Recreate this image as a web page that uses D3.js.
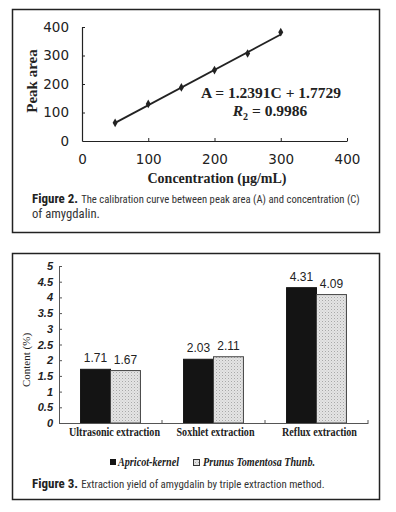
<!DOCTYPE html>
<html><head><meta charset="utf-8">
<script src="https://cdn.jsdelivr.net/npm/d3@7"></script>
<style>
html,body{margin:0;padding:0;background:#fff;}
svg{display:block;}
</style></head>
<body>
<svg id="c" width="396" height="512"></svg>
<script>
// ---------- Figure 2 data ----------
const concentration = [50, 100, 150, 200, 250, 300];
const peakArea = [64, 130, 188, 249, 307, 382];
const fitSlope = 1.2391;
const fitIntercept = 1.7729;
const xTicks1 = [0, 100, 200, 300, 400];
const yTicks1 = [0, 100, 200, 300, 400];

// ---------- Figure 3 data ----------
const methods = ["Ultrasonic extraction", "Soxhlet extraction", "Reflux extraction"];
const seriesNames = ["Apricot-kernel", "Prunus Tomentosa Thunb."];
const apricotValues = [1.71, 2.03, 4.31];
const prunusValues = [1.67, 2.11, 4.09];
const yTicks2 = [0, 0.5, 1, 1.5, 2, 2.5, 3, 3.5, 4, 4.5, 5];

const svg = d3.select("#c");
const defs = svg.append("defs");
const pat = defs.append("pattern").attr("id","dots").attr("patternUnits","userSpaceOnUse")
  .attr("width",3).attr("height",3);
pat.append("rect").attr("width",3).attr("height",3).attr("fill","#e4e4e4");
pat.append("rect").attr("x",0).attr("y",0).attr("width",1).attr("height",1).attr("fill","#a8a8a8");
pat.append("rect").attr("x",1.5).attr("y",1.5).attr("width",1).attr("height",1).attr("fill","#c4c4c4");

// frames
svg.append("rect").attr("x",12.5).attr("y",9.5).attr("width",367).attr("height",223)
  .attr("fill","none").attr("stroke","#222").attr("stroke-width",1.5);
svg.append("rect").attr("x",12.5).attr("y",253.5).attr("width",367).attr("height",246)
  .attr("fill","none").attr("stroke","#222").attr("stroke-width",1.5);

// ================= Figure 2 =================
const x1 = d3.scaleLinear().domain([0,400]).range([82,347]);
const y1 = d3.scaleLinear().domain([0,400]).range([141,27]);
const g1 = svg.append("g");

const ax1 = g1.append("g").attr("transform","translate(0,141)")
  .call(d3.axisBottom(x1).tickValues(xTicks1).tickSizeInner(-3).tickSizeOuter(0).tickPadding(13));
const ay1 = g1.append("g").attr("transform","translate(82,0)")
  .call(d3.axisLeft(y1).tickValues(yTicks1).tickSizeInner(-3).tickSizeOuter(0).tickPadding(13));
[ax1, ay1].forEach(a=>{
  a.select(".domain").attr("stroke","#222").attr("stroke-width",1.2);
  a.selectAll(".tick line").attr("stroke","#222");
  a.selectAll("text").attr("font-family","'DejaVu Sans', sans-serif").attr("font-size",13.5)
    .attr("fill","#222");
});
ay1.selectAll(".tick").filter(d=>d===0).select("line").remove();

// trend line
const xs = d3.extent(concentration);
g1.append("line")
  .attr("x1",x1(xs[0])).attr("y1",y1(fitSlope*xs[0]+fitIntercept))
  .attr("x2",x1(xs[1])).attr("y2",y1(fitSlope*xs[1]+fitIntercept))
  .attr("stroke","#222").attr("stroke-width",1.8);
// points
g1.selectAll("path.pt").data(concentration).join("path").attr("class","pt")
  .attr("d", d3.symbol(d3.symbolDiamond, 22))
  .attr("transform",(d,i)=>`translate(${x1(d)},${y1(peakArea[i])})`)
  .attr("fill","#222");

// equation
g1.append("text").attr("x",271).attr("y",98).attr("text-anchor","middle")
  .attr("font-family","'Liberation Serif', serif").attr("font-weight","bold").attr("font-size",15.5)
  .attr("fill","#222").text("A = 1.2391C + 1.7729");
const r2 = g1.append("text").attr("x",270).attr("y",116).attr("text-anchor","middle")
  .attr("font-family","'Liberation Serif', serif").attr("font-weight","bold").attr("font-size",15.5)
  .attr("fill","#222");
r2.append("tspan").attr("font-style","italic").text("R");
r2.append("tspan").attr("font-size",10).attr("dy",4).text("2");
r2.append("tspan").attr("dy",-4).text(" = 0.9986");

// axis titles
g1.append("text").attr("transform","translate(37,81) rotate(-90)").attr("text-anchor","middle")
  .attr("font-family","'Liberation Serif', serif").attr("font-weight","bold").attr("font-size",15)
  .attr("fill","#222").text("Peak area");
g1.append("text").attr("x",217).attr("y",183).attr("text-anchor","middle")
  .attr("font-family","'Liberation Serif', serif").attr("font-weight","bold").attr("font-size",14)
  .attr("fill","#222").text("Concentration (μg/mL)");

// caption
const capFont = "'Roboto Condensed','Liberation Sans Narrow','Liberation Sans',sans-serif";
function caption(y, bold, rest, endX){
  let x = 32;
  if(bold){
    const b = svg.append("text").attr("x",x).attr("y",y).attr("font-family",capFont)
      .attr("font-size",13).attr("font-weight","bold").attr("fill","#222").text(bold);
    x += b.node().getComputedTextLength() + 3;
  }
  const t = svg.append("text").attr("x",x).attr("y",y).attr("font-family",capFont)
    .attr("font-size",13).attr("fill","#333").text(rest);
  const nat = t.node().getComputedTextLength();
  const target = endX - x;
  if (nat > target) t.attr("font-size", 13 * target / nat);
}
caption(203, "Figure 2.", "The calibration curve between peak area (A) and concentration (C)", 360);
caption(218, null, "of amygdalin.", 100);

// ================= Figure 3 =================
const x0 = d3.scaleBand().domain(methods).range([59,368]).paddingInner(0).paddingOuter(0);
const xs2 = d3.scaleBand().domain(seriesNames).range([0,x0.bandwidth()]).paddingInner(0).paddingOuter(0.72);
const y2 = d3.scaleLinear().domain([0,5]).range([423,266]);
const g2 = svg.append("g");

const groups = methods.map((m,i)=>({m, vals:[apricotValues[i], prunusValues[i]]}));
const gg = g2.selectAll("g.grp").data(groups).join("g").attr("class","grp")
  .attr("transform",d=>`translate(${x0(d.m)},0)`);
gg.selectAll("rect").data(d=>d.vals.map((v,j)=>({v, s:seriesNames[j], j}))).join("rect")
  .attr("x",d=>xs2(d.s)).attr("width",xs2.bandwidth())
  .attr("y",d=>y2(d.v)).attr("height",d=>y2(0)-y2(d.v))
  .attr("fill",d=>d.j===0?"#141414":"url(#dots)")
  .attr("stroke",d=>d.j===0?"#141414":"#444").attr("stroke-width",1);
gg.selectAll("text.val").data(d=>d.vals.map((v,j)=>({v, s:seriesNames[j], j}))).join("text")
  .attr("class","val").attr("x",d=>xs2(d.s)+xs2.bandwidth()/2).attr("y",d=>y2(d.v)-7)
  .attr("text-anchor","middle").attr("font-family","'Liberation Sans', Arial, sans-serif")
  .attr("font-size",12).attr("fill","#222").text(d=>d.v.toFixed(2));

const ax2 = g2.append("g").attr("transform","translate(0,423)")
  .call(d3.axisBottom(x0).tickValues([]).tickSizeOuter(0));
ax2.select(".domain").attr("stroke","#555").attr("stroke-width",1);
// category separators
g2.selectAll("line.sep").data(methods).join("line").attr("class","sep")
  .attr("x1",d=>x0(d)+x0.bandwidth()).attr("x2",d=>x0(d)+x0.bandwidth())
  .attr("y1",423).attr("y2",420).attr("stroke","#555");
const catWidth = {"Ultrasonic extraction":91, "Soxhlet extraction":78, "Reflux extraction":75};
const catShift = {"Ultrasonic extraction":4, "Soxhlet extraction":2, "Reflux extraction":3};
g2.selectAll("text.cat").data(methods).join("text").attr("class","cat")
  .attr("x",d=>x0(d)+x0.bandwidth()/2+catShift[d]-catWidth[d]/2).attr("y",436)
  .attr("font-family","'Liberation Serif', serif").attr("font-weight","bold").attr("font-size",12)
  .attr("fill","#222").attr("textLength",d=>catWidth[d]).attr("lengthAdjust","spacingAndGlyphs")
  .text(d=>d);

const ay2 = g2.append("g").attr("transform","translate(59,0)")
  .call(d3.axisLeft(y2).tickValues(yTicks2).tickSizeInner(-3).tickSizeOuter(0).tickPadding(6)
    .tickFormat(d=>String(d)));
ay2.select(".domain").attr("stroke","#555");
ay2.selectAll(".tick line").attr("stroke","#555");
ay2.selectAll("text").attr("font-family","'Liberation Sans', Arial, sans-serif")
  .attr("font-weight","bold").attr("font-style","italic").attr("font-size",11).attr("fill","#222");

g2.append("text").attr("transform","translate(30,360) rotate(-90)").attr("text-anchor","middle")
  .attr("font-family","'Liberation Serif', serif").attr("font-size",11).attr("fill","#222")
  .text("Content (%)");

// legend
const leg = g2.append("g");
leg.append("rect").attr("x",110).attr("y",459).attr("width",6).attr("height",6).attr("fill","#141414");
leg.append("text").attr("x",118).attr("y",466).attr("font-family","'Liberation Serif', serif")
  .attr("font-weight","bold").attr("font-style","italic").attr("font-size",11.5).attr("fill","#222")
  .attr("textLength",61).attr("lengthAdjust","spacingAndGlyphs")
  .text(seriesNames[0]);
leg.append("rect").attr("x",193.5).attr("y",459.5).attr("width",6).attr("height",6)
  .attr("fill","url(#dots)").attr("stroke","#333").attr("stroke-width",1);
leg.append("text").attr("x",203).attr("y",466).attr("font-family","'Liberation Serif', serif")
  .attr("font-weight","bold").attr("font-style","italic").attr("font-size",11.5).attr("fill","#222")
  .attr("textLength",112).attr("lengthAdjust","spacingAndGlyphs")
  .text(seriesNames[1]);

caption(488, "Figure 3.", "Extraction yield of amygdalin by triple extraction method.", 325);
</script>
</body></html>
